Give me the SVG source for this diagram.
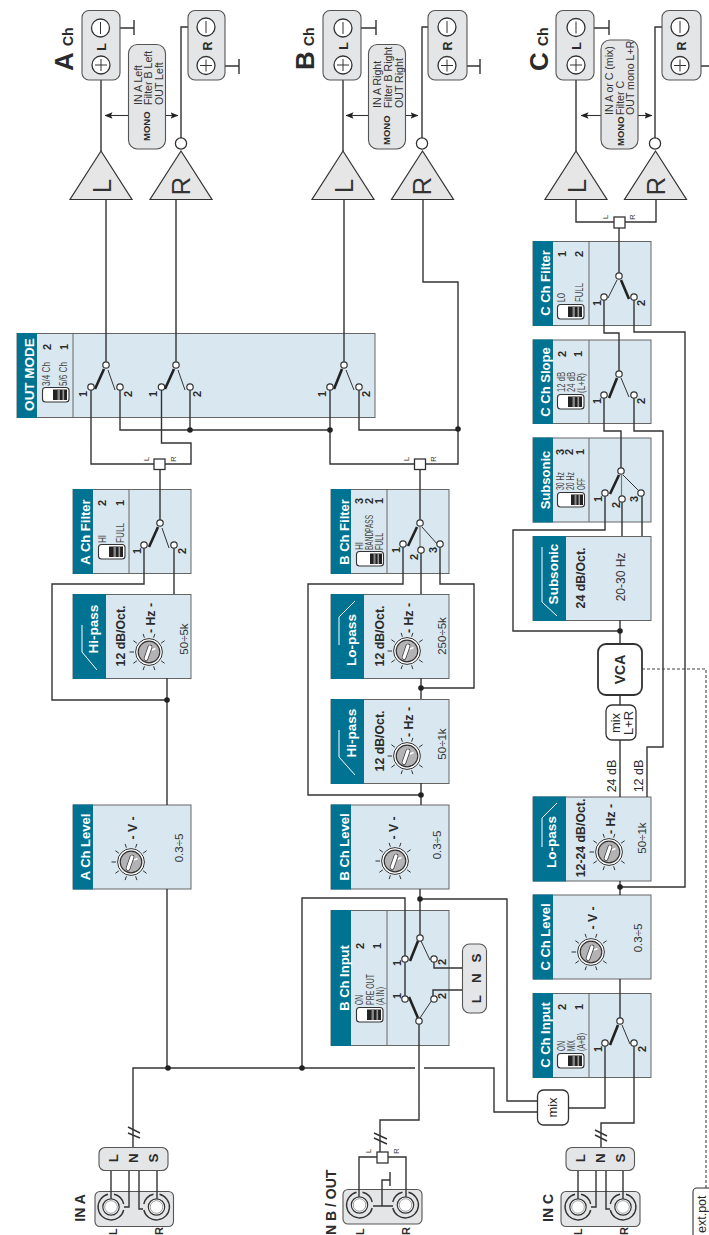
<svg xmlns="http://www.w3.org/2000/svg" width="709" height="1235" viewBox="0 0 709 1235">
<style>
text{font-family:"Liberation Sans",Arial,sans-serif;fill:#2b2b2b}
.p{fill:#d9e8f0;stroke:#666;stroke-width:1}
.h{fill:#007393}
.dv{stroke:#666;stroke-width:1;fill:none}
.ht{fill:#fff;font-weight:700;font-size:13px;text-anchor:middle}
.sl{fill:none;stroke:#fff;stroke-width:1}
.b12{font-weight:700;font-size:12.3px;text-anchor:middle}
.v{font-size:11.5px;text-anchor:middle;fill:#333}
.sn{font-weight:700;font-size:11px;text-anchor:middle}
.nr{font-size:10.5px;fill:#444}
.tn{font-size:7.5px;fill:#333;text-anchor:middle}
.w{fill:none;stroke:#333;stroke-width:1.4}
.g{fill:#e4e5e6;stroke:#555;stroke-width:1.1}
.tri{fill:#e6e6e6;stroke:#333;stroke-width:1.2}
.ci{fill:#fff;stroke:#333;stroke-width:1.3}
.trm{fill:#fff;stroke:#333;stroke-width:1.2}
.lab{font-weight:700;font-size:13.5px;text-anchor:middle}
.sp{font-weight:700;font-size:12.5px;text-anchor:middle}
.jl{font-weight:700;font-size:11px}
.mt{font-size:10.6px;fill:#333}
.mo{font-size:9.5px;font-weight:700}
.thin{fill:none;stroke:#333;stroke-width:1}
.th{fill:none;stroke:#222;stroke-width:2.6}
.big{font-size:26px;fill:#333;text-anchor:middle}
</style>
<defs>
<marker id="ar" viewBox="0 0 8 8" refX="7.5" refY="4" markerWidth="8" markerHeight="8" orient="auto" markerUnits="userSpaceOnUse"><path d="M0 .7L8 4L0 7.3L1.6 4Z" fill="#222"/></marker>
<g id="tog"><rect x=".5" y=".5" width="26.5" height="14.5" rx="3" fill="#fff" stroke="#333" stroke-width="1.1"/><rect x="11" y="2.5" width="14" height="10.5" fill="#222"/><rect x="15.5" y="2.5" width="2.4" height="10.5" fill="#888"/><rect x="20.5" y="2.5" width="1.6" height="10.5" fill="#999"/></g>
<g id="tog2"><rect x=".5" y=".5" width="27" height="14.5" rx="3" fill="#fff" stroke="#333" stroke-width="1.1"/><rect x="14" y="2.5" width="12" height="10.5" fill="#222"/><rect x="17.5" y="2.5" width="2" height="10.5" fill="#888"/><rect x="21.5" y="2.5" width="1.5" height="10.5" fill="#999"/></g>
<g id="knob">
<g stroke="#333" stroke-width="1"><path d="M-15 0H-19.5M-12.1 -8.8L-15.6 -11.3M-4.6 -14.3L-5.9 -18.1M4.6 -14.3L5.9 -18.1M12.1 -8.8L15.6 -11.3M-12.1 8.8L-15.6 11.3M-4.6 14.3L-5.9 18.1M4.6 14.3L5.9 18.1M12.1 8.8L15.6 11.3"/></g>
<circle r="13.4" fill="#fff" stroke="#333" stroke-width="1"/><circle r="10.8" fill="#b3b3b5" stroke="#333" stroke-width="1.2"/>
<path d="M-3 6.500L1 -5" stroke="#333" stroke-width="4.600" stroke-linecap="round"/><path d="M-3 6.500L1 -5" stroke="#fff" stroke-width="3.200" stroke-linecap="round"/><path d="M3 -2L6.500 -3.500" stroke="#fff" stroke-width="1.400"/>
</g>
<g id="plus"><circle r="9" class="ci"/><path d="M-6 0H6M0 -6V6" class="thin"/></g>
<g id="minus"><circle r="9" class="ci"/><path d="M0 -6V6" class="thin"/></g>
<g id="jack"><path d="M-3 -12.7A13 13 0 1 0 12.7 3M3 -12.7A13 13 0 0 1 12.7 -3" fill="none" stroke="#333" stroke-width="1.4"/><circle r="8.2" fill="#fff" stroke="#333" stroke-width="1.2"/><circle r="6.3" fill="none" stroke="#777" stroke-width=".7"/></g>
<g id="trib"><path d="M0 0L31 48.5H-31Z" class="tri"/></g>
</defs>

<g id="out-mode"><rect class="p" x="17" y="333.5" width="358" height="84"/><rect class="h" x="17" y="333" width="20" height="85"/><path class="dv" d="M73 334V417"/>
<text class="ht" style="font-size:13.5px" transform="translate(33.5 374.5) rotate(-90)">OUT MODE</text>
<text class="sn" transform="translate(51 347) rotate(-90)">2</text><text class="sn" transform="translate(67.5 347) rotate(-90)">1</text>
<text class="nr" textLength="24" lengthAdjust="spacingAndGlyphs" transform="translate(50 386) rotate(-90)">3/4 Ch</text><text class="nr" textLength="24" lengthAdjust="spacingAndGlyphs" transform="translate(67 386) rotate(-90)">5/6 Ch</text>
<use href="#tog" x="42" y="387"/></g>

<g id="a-filter"><rect class="p" x="73" y="489.5" width="118" height="84"/><rect class="h" x="73" y="489" width="20" height="85"/><path class="dv" d="M129 490V573"/>
<text class="ht" transform="translate(90 532) rotate(-90)">A Ch Filter</text>
<text class="sn" transform="translate(106 503) rotate(-90)">2</text><text class="sn" transform="translate(124 503) rotate(-90)">1</text>
<text class="nr" textLength="8" lengthAdjust="spacingAndGlyphs" transform="translate(106 543) rotate(-90)">HI</text><text class="nr" textLength="20" lengthAdjust="spacingAndGlyphs" transform="translate(124 543) rotate(-90)">FULL</text>
<use href="#tog" x="98" y="544"/></g>

<g id="a-hipass"><rect class="p" x="73" y="594.5" width="118" height="84"/><rect class="h" x="73" y="594" width="33" height="85"/>
<path class="sl" d="M82 625V652L97 670"/><text class="ht" style="font-size:13.5px" transform="translate(98 629) rotate(-90)">Hi-pass</text>
<text class="b12" transform="translate(125 636) rotate(-90)">12 dB/Oct.</text><text class="b12" transform="translate(155 618) rotate(-90)">- Hz -</text>
<use href="#knob" x="149" y="652"/><text class="v" transform="translate(188 639) rotate(-90)">50÷5k</text></g>

<g id="a-level"><rect class="p" x="73" y="805" width="118" height="84"/><rect class="h" x="73" y="804.5" width="20" height="85"/>
<text class="ht" transform="translate(90 847) rotate(-90)">A Ch Level</text>
<text class="b12" transform="translate(137 828) rotate(-90)">- V -</text><use href="#knob" x="131" y="862"/><text class="v" transform="translate(183 848) rotate(-90)">0.3÷5</text></g>

<g id="b-filter"><rect class="p" x="331" y="489.5" width="118" height="84"/><rect class="h" x="331" y="489" width="20" height="85"/><path class="dv" d="M387 490V573"/>
<text class="ht" transform="translate(348.5 532) rotate(-90)">B Ch Filter</text>
<text class="sn" transform="translate(363 501) rotate(-90)">3</text><text class="sn" transform="translate(372.5 501) rotate(-90)">2</text><text class="sn" transform="translate(383 501) rotate(-90)">1</text>
<text class="nr" textLength="8" lengthAdjust="spacingAndGlyphs" transform="translate(363 550) rotate(-90)">HI</text><text class="nr" textLength="35" lengthAdjust="spacingAndGlyphs" transform="translate(373 550) rotate(-90)">BANDPASS</text><text class="nr" textLength="17" lengthAdjust="spacingAndGlyphs" transform="translate(383 550) rotate(-90)">FULL</text>
<use href="#tog2" x="356" y="551"/></g>

<g id="b-lopass"><rect class="p" x="331" y="594.5" width="118" height="84"/><rect class="h" x="331" y="594" width="33" height="85"/>
<path class="sl" d="M339 645V617L355 601"/><text class="ht" style="font-size:13.5px" transform="translate(356 640) rotate(-90)">Lo-pass</text>
<text class="b12" transform="translate(383.5 636) rotate(-90)">12 dB/Oct.</text><text class="b12" transform="translate(413 618) rotate(-90)">- Hz -</text>
<use href="#knob" x="407" y="651"/><text class="v" transform="translate(446 636) rotate(-90)">250÷5k</text></g>

<g id="b-hipass"><rect class="p" x="331" y="699.5" width="118" height="84"/><rect class="h" x="331" y="699" width="33" height="85"/>
<path class="sl" d="M339 730V757L355 775"/><text class="ht" style="font-size:13.5px" transform="translate(356 733) rotate(-90)">Hi-pass</text>
<text class="b12" transform="translate(383.5 741) rotate(-90)">12 dB/Oct.</text><text class="b12" transform="translate(413 722) rotate(-90)">- Hz -</text>
<use href="#knob" x="407" y="756"/><text class="v" transform="translate(446 744) rotate(-90)">50÷1k</text></g>

<g id="b-level"><rect class="p" x="331" y="805" width="118" height="84"/><rect class="h" x="331" y="804.5" width="20" height="85"/>
<text class="ht" transform="translate(348.5 847) rotate(-90)">B Ch Level</text>
<text class="b12" transform="translate(398 828) rotate(-90)">- V -</text><use href="#knob" x="395" y="861"/><text class="v" transform="translate(441 845) rotate(-90)">0.3÷5</text></g>

<g id="b-input"><rect class="p" x="331" y="910.5" width="118" height="135"/><rect class="h" x="331" y="910" width="20" height="136"/><path class="dv" d="M387 911V1045"/>
<text class="ht" transform="translate(348.5 978) rotate(-90)">B Ch Input</text>
<text class="sn" transform="translate(364 946) rotate(-90)">2</text><text class="sn" transform="translate(381 946) rotate(-90)">1</text>
<text class="nr" textLength="10" lengthAdjust="spacingAndGlyphs" transform="translate(363 1005) rotate(-90)">ON</text><text class="nr" textLength="31" lengthAdjust="spacingAndGlyphs" transform="translate(374 1005) rotate(-90)">PRE OUT</text><text class="nr" textLength="18" lengthAdjust="spacingAndGlyphs" transform="translate(384 1005) rotate(-90)">(A IN)</text>
<use href="#tog" x="356" y="1007"/></g>

<g id="c-filter"><rect class="p" x="533" y="241.5" width="118" height="84"/><rect class="h" x="533" y="241" width="20" height="85"/><path class="dv" d="M589 242V325"/>
<text class="ht" transform="translate(550 283) rotate(-90)">C Ch Filter</text>
<text class="sn" transform="translate(566 254) rotate(-90)">1</text><text class="sn" transform="translate(583 254) rotate(-90)">2</text>
<text class="nr" textLength="9" lengthAdjust="spacingAndGlyphs" transform="translate(565 302) rotate(-90)">LO</text><text class="nr" textLength="19" lengthAdjust="spacingAndGlyphs" transform="translate(583 302) rotate(-90)">FULL</text>
<use href="#tog" x="557" y="304"/></g>

<g id="c-slope"><rect class="p" x="533" y="340" width="118" height="83.5"/><rect class="h" x="533" y="339.5" width="20" height="84.5"/><path class="dv" d="M589 340V423"/>
<text class="ht" transform="translate(550 382) rotate(-90)">C Ch Slope</text>
<text class="sn" transform="translate(566 354) rotate(-90)">2</text><text class="sn" transform="translate(582 354) rotate(-90)">1</text>
<text class="nr" textLength="20" lengthAdjust="spacingAndGlyphs" transform="translate(565 392) rotate(-90)">12 dB</text><text class="nr" textLength="20" lengthAdjust="spacingAndGlyphs" transform="translate(575 392) rotate(-90)">24 dB</text><text class="nr" textLength="20" lengthAdjust="spacingAndGlyphs" transform="translate(585 393) rotate(-90)">(L+R)</text>
<use href="#tog" x="557" y="394"/></g>

<g id="c-subswitch"><rect class="p" x="533" y="438" width="118" height="84"/><rect class="h" x="533" y="437.5" width="20" height="85"/><path class="dv" d="M589 438V522"/>
<text class="ht" transform="translate(550 480) rotate(-90)">Subsonic</text>
<text class="sn" transform="translate(564 452) rotate(-90)">3</text><text class="sn" transform="translate(573 452) rotate(-90)">2</text><text class="sn" transform="translate(584 452) rotate(-90)">1</text>
<text class="nr" textLength="18" lengthAdjust="spacingAndGlyphs" transform="translate(564 490) rotate(-90)">30 Hz</text><text class="nr" textLength="18" lengthAdjust="spacingAndGlyphs" transform="translate(574 490) rotate(-90)">20 Hz</text><text class="nr" textLength="12" lengthAdjust="spacingAndGlyphs" transform="translate(585 490) rotate(-90)">OFF</text>
<use href="#tog2" x="557" y="492"/></g>

<g id="c-subsonic"><rect class="p" x="533" y="536.5" width="118" height="84"/><rect class="h" x="533" y="536" width="33" height="85"/>
<path class="sl" d="M542 547V602L557 616"/><text class="ht" style="font-size:13.5px" transform="translate(558 574) rotate(-90)">Subsonic</text>
<text class="b12" transform="translate(585 578) rotate(-90)">24 dB/Oct.</text><text class="v" style="font-size:12px" transform="translate(625 577) rotate(-90)">20-30 Hz</text></g>

<g id="c-lopass"><rect class="p" x="533" y="797" width="118" height="84"/><rect class="h" x="533" y="796.5" width="33" height="85"/>
<path class="sl" d="M542 847V818L557 803"/><text class="ht" style="font-size:13.5px" transform="translate(556 842) rotate(-90)">Lo-pass</text>
<text class="b12" transform="translate(585 838) rotate(-90)">12-24 dB/Oct.</text><text class="b12" transform="translate(615 819) rotate(-90)">- Hz -</text>
<use href="#knob" x="609" y="852"/><text class="v" transform="translate(646 838) rotate(-90)">50÷1k</text></g>

<g id="c-level"><rect class="p" x="533" y="895" width="118" height="84"/><rect class="h" x="533" y="894.5" width="20" height="85"/>
<text class="ht" transform="translate(550 937) rotate(-90)">C Ch Level</text>
<text class="b12" transform="translate(597 918) rotate(-90)">- V -</text><use href="#knob" x="591" y="952"/><text class="v" transform="translate(642 938) rotate(-90)">0.3÷5</text></g>

<g id="c-input"><rect class="p" x="533" y="993.5" width="118" height="84"/><rect class="h" x="533" y="993" width="20" height="85"/><path class="dv" d="M589 994V1077"/>
<text class="ht" transform="translate(550 1035) rotate(-90)">C Ch Input</text>
<text class="sn" transform="translate(566 1007) rotate(-90)">2</text><text class="sn" transform="translate(583 1007) rotate(-90)">1</text>
<text class="nr" textLength="10" lengthAdjust="spacingAndGlyphs" transform="translate(565 1051) rotate(-90)">ON</text><text class="nr" textLength="11" lengthAdjust="spacingAndGlyphs" transform="translate(575 1051) rotate(-90)">MIX</text><text class="nr" textLength="18" lengthAdjust="spacingAndGlyphs" transform="translate(585 1051) rotate(-90)">(A+B)</text>
<use href="#tog" x="557" y="1053"/></g>

<g id="connectors" class="w">
<path d="M106 199V365M176 199V365M91 387V464H154M165 464H191V443H161.500V387M120 387V430H330M190 387V430M330 387V464H414M359 387V430H458M344 199V365M423 199V282H458V464H425M160 469V523M144 545V584H52V700H167M174 545V594M167 678V805M167 889V1068"/>
<path d="M133 1147V1068H415M424 1068H494V1112H537M302 1068V898H405V999M420 889V938M420 899H507V1101H537M419 1021V1120H380V1152M434 959V968H462M433 999V990H462"/>
<path d="M420 469V523M403 544V584H308V795H421M421 550V594M440 544V584H474V688H421M421 678V699M421 783V805"/>
<path d="M568 1108H605V1043M634 1043V1123H601V1147M620 979V1021M620 881V895M620 887H685V332H634V297M604 297V333H619V374M604 395V431H621V471M634 395V431H663V747H647V797M622 499V536M642 493V536M605 493V530H513V631H620M620 620V644M620 695V705M620 740V797M619 276V228M614 222H576V199M625 222H656V199"/>
<path d="M101 80V151M197 27H181V138M109 28H134M134 20V35M215 66H239M239 59V74M343 80V151M438 27H422V138M352 28H376M376 20V35M456 66H480M480 59V74M576 80V151M671 27H655V138M585 28H609M609 20V35M689 66H709"/>
<path d="M642 669H706V1188" stroke-dasharray="3 2" stroke-width="1.100" stroke="#444"/>
<path d="M128 1127L140 1133M128 1133L140 1138M374 1133L387 1139M374 1138L387 1144M595 1130L607 1136M595 1135L607 1141"/>
<path d="M129 115.500H105" stroke-width="1.100" marker-end="url(#ar)"/><path d="M165 115.500H178" stroke-width="1.100" marker-end="url(#ar)"/>
<path d="M368 115.500H346" stroke-width="1.100" marker-end="url(#ar)"/><path d="M405 115.500H418" stroke-width="1.100" marker-end="url(#ar)"/>
<path d="M601 115.500H581" stroke-width="1.100" marker-end="url(#ar)"/><path d="M638 115.500H652" stroke-width="1.100" marker-end="url(#ar)"/>
<path d="M111 1170V1199M129 1170V1207H124M139 1170V1209H143M157 1170V1199"/>
<path d="M578 1170V1199M596 1170V1207H591M606 1170V1209H610M623 1170V1199"/>
<path d="M359 1197V1157H377M388 1157H406V1197M373 1206H393M382 1206V1180H390M390 1172V1186"/>
<g fill="#222" stroke="none"><circle cx="190" cy="430" r="2.800"/><circle cx="330" cy="430" r="2.800"/><circle cx="458" cy="429" r="2.800"/><circle cx="167" cy="700" r="2.800"/><circle cx="421" cy="688" r="2.800"/><circle cx="421" cy="795" r="2.800"/><circle cx="420" cy="899" r="2.800"/><circle cx="168" cy="1068" r="2.800"/><circle cx="302" cy="1068" r="2.800"/><circle cx="620" cy="631" r="2.800"/><circle cx="620" cy="887" r="2.800"/></g>
</g>

<g id="switches">
<g id="sw-out1"><path class="thin" d="M108 370L115 390"/><path class="th" d="M104 369L95 389"/><circle class="trm" cx="106" cy="365" r="3.200"/><circle class="trm" cx="91" cy="387" r="3.200"/><circle class="trm" cx="120" cy="387" r="3.200"/><text class="sn" transform="translate(87 394) rotate(-90)">1</text><text class="sn" transform="translate(132 394) rotate(-90)">2</text></g>
<g id="sw-out2"><path class="thin" d="M178 370L185 390"/><path class="th" d="M174 369L165 389"/><circle class="trm" cx="176" cy="365" r="3.200"/><circle class="trm" cx="161.500" cy="387" r="3.200"/><circle class="trm" cx="190" cy="387" r="3.200"/><text class="sn" transform="translate(157 394) rotate(-90)">1</text><text class="sn" transform="translate(201 394) rotate(-90)">2</text></g>
<g id="sw-out3"><path class="thin" d="M346 370L354 390"/><path class="th" d="M342 369L334 389"/><circle class="trm" cx="344" cy="365" r="3.200"/><circle class="trm" cx="330" cy="387" r="3.200"/><circle class="trm" cx="359" cy="387" r="3.200"/><text class="sn" transform="translate(326 394) rotate(-90)">1</text><text class="sn" transform="translate(370 394) rotate(-90)">2</text></g>
<g id="sw-afilter"><path class="thin" d="M162 528L169 548"/><path class="th" d="M158 527L149 547"/><circle class="trm" cx="160" cy="523" r="3.200"/><circle class="trm" cx="144" cy="545" r="3.200"/><circle class="trm" cx="174" cy="545" r="3.200"/><text class="sn" transform="translate(141 551) rotate(-90)">1</text><text class="sn" transform="translate(186 551) rotate(-90)">2</text></g>
<g id="sw-bfilter"><path class="thin" d="M422 527L438 545"/><path d="M420 527V547" stroke="#777" stroke-width="1.200"/><path class="th" d="M417 527L408 546"/><circle class="trm" cx="420" cy="523" r="3.200"/><circle class="trm" cx="403" cy="544" r="3.200"/><circle class="trm" cx="421" cy="550" r="3.200"/><circle class="trm" cx="440" cy="544" r="3.200"/><text class="sn" transform="translate(400 550) rotate(-90)">1</text><text class="sn" transform="translate(418 557) rotate(-90)">2</text><text class="sn" transform="translate(437 550) rotate(-90)">3</text></g>
<g id="sw-binput"><path class="thin" d="M421 941L430 960M420 1018L432 1000"/><path class="th" d="M418 941L410 961M418 1018L409 997"/><circle class="trm" cx="420" cy="938" r="3.200"/><circle class="trm" cx="405" cy="959" r="3.200"/><circle class="trm" cx="434" cy="959" r="3.200"/><circle class="trm" cx="405" cy="999" r="3.200"/><circle class="trm" cx="434" cy="999" r="3.200"/><circle class="trm" cx="419" cy="1021" r="3.200"/><text class="sn" transform="translate(401 963) rotate(-90)">1</text><text class="sn" transform="translate(446 962) rotate(-90)">2</text><text class="sn" transform="translate(401 996) rotate(-90)">1</text><text class="sn" transform="translate(446 996) rotate(-90)">2</text></g>
<g id="sw-cfilter"><path class="thin" d="M617 280L608 298"/><path class="th" d="M621 280L629 299"/><circle class="trm" cx="619" cy="276" r="3.200"/><circle class="trm" cx="604" cy="297" r="3.200"/><circle class="trm" cx="634" cy="297" r="3.200"/><text class="sn" transform="translate(601 303) rotate(-90)">1</text><text class="sn" transform="translate(645 303) rotate(-90)">2</text></g>
<g id="sw-cslope"><path class="thin" d="M621 378L629 397"/><path class="th" d="M617 378L609 398"/><circle class="trm" cx="619" cy="374" r="3.200"/><circle class="trm" cx="604" cy="395" r="3.200"/><circle class="trm" cx="634" cy="395" r="3.200"/><text class="sn" transform="translate(601 401) rotate(-90)">1</text><text class="sn" transform="translate(645 401) rotate(-90)">2</text></g>
<g id="sw-csub"><path class="thin" d="M623 475L638 490"/><path d="M621.500 475V496" stroke="#777" stroke-width="1.200"/><path class="th" d="M619 475L610 494"/><circle class="trm" cx="621" cy="471" r="3.200"/><circle class="trm" cx="605" cy="493" r="3.200"/><circle class="trm" cx="622" cy="499" r="3.200"/><circle class="trm" cx="641" cy="493" r="3.200"/><text class="sn" transform="translate(602 499) rotate(-90)">1</text><text class="sn" transform="translate(620 505) rotate(-90)">2</text><text class="sn" transform="translate(638 499) rotate(-90)">3</text></g>
<g id="sw-cinput"><path class="thin" d="M622 1025L630 1044"/><path class="th" d="M618 1025L610 1045"/><circle class="trm" cx="620" cy="1021" r="3.200"/><circle class="trm" cx="605" cy="1043" r="3.200"/><circle class="trm" cx="634" cy="1043" r="3.200"/><text class="sn" transform="translate(602 1049) rotate(-90)">1</text><text class="sn" transform="translate(646 1049) rotate(-90)">2</text></g>
</g>

<g id="title-a"><text font-size="26" font-weight="700" transform="translate(73 71) rotate(-90)">A</text><text font-size="14" font-weight="700" transform="translate(73 46) rotate(-90)">Ch</text></g>
<g id="title-b"><text font-size="26" font-weight="700" transform="translate(314 70) rotate(-90)">B</text><text font-size="14" font-weight="700" transform="translate(314 46) rotate(-90)">Ch</text></g>
<g id="title-c"><text font-size="26" font-weight="700" transform="translate(548 71) rotate(-90)">C</text><text font-size="14" font-weight="700" transform="translate(548 46) rotate(-90)">Ch</text></g>

<g id="a-spk-l"><rect class="g" x="82" y="10.500" width="38" height="69.500" rx="7"/><use href="#minus" x="100.500" y="28"/><use href="#plus" x="101" y="65"/><text class="sp" transform="translate(106 47) rotate(-90)">L</text></g>
<g id="a-spk-r"><rect class="g" x="188" y="10.500" width="37" height="69.500" rx="7"/><use href="#minus" x="206" y="27"/><use href="#plus" x="206" y="65.500"/><text class="sp" transform="translate(212 46) rotate(-90)">R</text></g>
<g id="b-spk-l"><rect class="g" x="323" y="10.500" width="38" height="69.500" rx="7"/><use href="#minus" x="343" y="28"/><use href="#plus" x="343" y="65"/><text class="sp" transform="translate(348 46) rotate(-90)">L</text></g>
<g id="b-spk-r"><rect class="g" x="428" y="10.500" width="39" height="69.500" rx="7"/><use href="#minus" x="447" y="27"/><use href="#plus" x="447" y="65.500"/><text class="sp" transform="translate(452 46) rotate(-90)">R</text></g>
<g id="c-spk-l"><rect class="g" x="556" y="10.500" width="38" height="69.500" rx="7"/><use href="#minus" x="576" y="27.500"/><use href="#plus" x="576" y="65"/><text class="sp" transform="translate(581 46) rotate(-90)">L</text></g>
<g id="c-spk-r"><rect class="g" x="662" y="10.500" width="39" height="69.500" rx="7"/><use href="#minus" x="680" y="27"/><use href="#plus" x="680" y="65.500"/><text class="sp" transform="translate(686 46) rotate(-90)">R</text></g>

<g id="a-mono"><rect class="g" x="128.500" y="44.500" width="37" height="104.500" rx="9"/><text class="mt" transform="translate(141.500 105) rotate(-90)">IN A Left</text><text class="mt" transform="translate(152 105) rotate(-90)">Filter B Left</text><text class="mt" transform="translate(162.500 105) rotate(-90)">OUT Left</text><text class="mo" transform="translate(150 141) rotate(-90)">MONO</text></g>
<g id="b-mono"><rect class="g" x="368.500" y="44.500" width="37" height="104.500" rx="9"/><text class="mt" transform="translate(380.500 108) rotate(-90)">IN A Right</text><text class="mt" transform="translate(392 108) rotate(-90)">Filter B Right</text><text class="mt" transform="translate(403 108) rotate(-90)">OUT Right</text><text class="mo" transform="translate(390 145) rotate(-90)">MONO</text></g>
<g id="c-mono"><rect class="g" x="601" y="40" width="37" height="109" rx="9"/><text class="mt" transform="translate(613 115) rotate(-90)">IN A or C (mix)</text><text class="mt" transform="translate(623.500 115) rotate(-90)">Filter C</text><text class="mt" transform="translate(634 115) rotate(-90)">OUT mono L+R</text><text class="mo" transform="translate(623.500 146) rotate(-90)">MONO</text></g>

<g id="a-amp-l"><use href="#trib" x="101" y="151"/><text class="big" transform="translate(111 186) rotate(-90)">L</text></g>
<g id="a-amp-r"><use href="#trib" x="181" y="151"/><circle class="ci" cx="181" cy="143.500" r="5.600"/><text class="big" transform="translate(190 186) rotate(-90)">R</text></g>
<g id="b-amp-l"><use href="#trib" x="343" y="151"/><text class="big" transform="translate(353 186) rotate(-90)">L</text></g>
<g id="b-amp-r"><use href="#trib" x="422.500" y="151"/><circle class="ci" cx="422" cy="143.500" r="5.600"/><text class="big" transform="translate(431 186) rotate(-90)">R</text></g>
<g id="c-amp-l"><use href="#trib" x="576" y="151"/><text class="big" transform="translate(586 186) rotate(-90)">L</text></g>
<g id="c-amp-r"><use href="#trib" x="655.500" y="151"/><circle class="ci" cx="655" cy="143.500" r="5.600"/><text class="big" transform="translate(665 186) rotate(-90)">R</text></g>

<g id="split-a"><rect class="ci" x="154" y="459" width="11" height="10.500"/><text class="tn" transform="translate(149 459) rotate(-90)">L</text><text class="tn" transform="translate(176 459) rotate(-90)">R</text></g>
<g id="split-b"><rect class="ci" x="414.500" y="459" width="11" height="10.500"/><text class="tn" transform="translate(409 459) rotate(-90)">L</text><text class="tn" transform="translate(436 459) rotate(-90)">R</text></g>
<g id="split-c"><rect class="ci" x="614" y="217" width="11" height="11"/><text class="tn" transform="translate(608 217) rotate(-90)">L</text><text class="tn" transform="translate(635 217) rotate(-90)">R</text></g>
<g id="split-in"><rect class="ci" x="377" y="1152" width="11" height="11"/><text class="tn" transform="translate(371 1151) rotate(-90)">L</text><text class="tn" transform="translate(399 1151) rotate(-90)">R</text></g>

<g id="lns-b"><rect class="g" x="462.500" y="944" width="24" height="69" rx="7"/><text class="lab" transform="translate(481 958) rotate(-90)">S</text><text class="lab" transform="translate(481 978) rotate(-90)">N</text><text class="lab" transform="translate(481 999) rotate(-90)">L</text></g>
<g id="mix-ab"><rect class="ci" x="537.500" y="1090" width="31" height="35" rx="6" stroke-width="1.100"/><text style="font-size:13px;text-anchor:middle" transform="translate(557 1107.500) rotate(-90)">mix</text></g>
<g id="mix-lr"><rect class="ci" x="606" y="705" width="30" height="35" rx="6" stroke-width="1.100"/><text style="font-size:13px;text-anchor:middle" transform="translate(620 723) rotate(-90)">mix</text><text style="font-size:13px;text-anchor:middle" transform="translate(633 723) rotate(-90)">L+R</text></g>
<g id="vca"><rect x="598" y="644" width="44" height="51" rx="8" fill="#fff" stroke="#333" stroke-width="1.800"/><text style="font-size:14px;font-weight:700;text-anchor:middle" transform="translate(625 669.500) rotate(-90)">VCA</text></g>
<g id="slope-labels"><text style="font-size:12.500px;text-anchor:middle" transform="translate(616 776) rotate(-90)">24 dB</text><text style="font-size:12.500px;text-anchor:middle" transform="translate(642.500 776) rotate(-90)">12 dB</text></g>

<g id="in-a"><rect class="g" x="99" y="1147.500" width="69" height="23" rx="6"/><text class="lab" transform="translate(118 1158) rotate(-90)">L</text><text class="lab" transform="translate(138 1158) rotate(-90)">N</text><text class="lab" transform="translate(158 1158) rotate(-90)">S</text>
<rect class="g" x="95" y="1191.500" width="78.500" height="35" rx="5"/><path class="w" d="M111 1191V1199M129 1191V1207H124M139 1191V1209H143M157 1191V1199"/><use href="#jack" x="111" y="1207"/><use href="#jack" transform="translate(156.500 1207) scale(-1 1)"/>
<text class="lab" style="font-size:14px" transform="translate(85 1208) rotate(-90)">IN A</text><text class="jl" transform="translate(117 1235) rotate(-90)">L</text><text class="jl" transform="translate(163 1235) rotate(-90)">R</text></g>

<g id="in-b"><rect class="g" x="343" y="1189.500" width="79" height="34.500" rx="5"/><path class="w" d="M359 1189V1197M406 1189V1197M373 1206H393M382 1206V1189"/><use href="#jack" x="359.500" y="1205"/><use href="#jack" transform="translate(405.500 1205) scale(-1 1)"/>
<text style="font-size:14px;font-weight:700" transform="translate(336 1235) rotate(-90)">N B / OUT</text><text class="jl" transform="translate(364 1235) rotate(-90)">L</text><text class="jl" transform="translate(410 1235) rotate(-90)">R</text></g>

<g id="in-c"><rect class="g" x="566" y="1147.500" width="68.500" height="23" rx="6"/><text class="lab" transform="translate(585 1158) rotate(-90)">L</text><text class="lab" transform="translate(605 1158) rotate(-90)">N</text><text class="lab" transform="translate(625 1158) rotate(-90)">S</text>
<rect class="g" x="561" y="1191.500" width="79" height="35" rx="5"/><path class="w" d="M578 1191V1199M596 1191V1207H591M606 1191V1209H610M623 1191V1199"/><use href="#jack" x="578" y="1207"/><use href="#jack" transform="translate(623 1207) scale(-1 1)"/>
<text class="lab" style="font-size:14px" transform="translate(553 1208) rotate(-90)">IN C</text><text class="jl" transform="translate(582 1235) rotate(-90)">L</text><text class="jl" transform="translate(628 1235) rotate(-90)">R</text></g>

<g id="ext-pot"><rect x="693" y="1188" width="30" height="60" rx="4" fill="#fff" stroke="#333" stroke-width="1.100"/><text style="font-size:12.500px" transform="translate(706 1233) rotate(-90)">ext.pot</text></g>
</svg>
